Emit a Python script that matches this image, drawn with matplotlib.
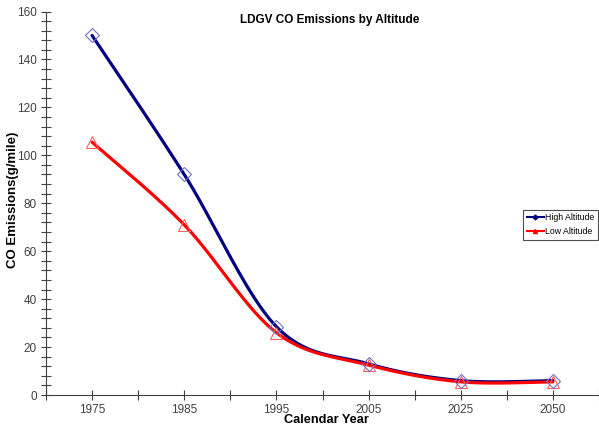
"""
LDGV CO emissions by altitude - smoothed line chart (Excel style)
"""
import matplotlib
matplotlib.use('Agg')
import matplotlib.pyplot as plt
from matplotlib.lines import Line2D
from matplotlib.ticker import MultipleLocator
import numpy as np

plt.rcParams['font.family'] = ['Liberation Sans', 'DejaVu Sans']

years = ['1975', '1985', '1995', '2005', '2025', '2050']
high_altitude = [150, 92, 28.5, 13, 6, 6]
low_altitude = [105.5, 71, 26, 12.5, 5.5, 5.5]


def smooth(xs, ys, n=40):
    """Catmull-Rom style bezier smoothing like Excel's smoothed line"""
    pts = np.column_stack([xs, ys]).astype(float)
    out = []
    for i in range(len(pts) - 1):
        p0 = pts[i - 1] if i > 0 else pts[i]
        p1 = pts[i]
        p2 = pts[i + 1]
        p3 = pts[i + 2] if i + 2 < len(pts) else pts[i + 1]
        c1 = p1 + (p2 - p0) / 6.0
        c2 = p2 - (p3 - p1) / 6.0
        t = np.linspace(0, 1, n)[:, None]
        seg = ((1 - t) ** 3) * p1 + 3 * ((1 - t) ** 2) * t * c1 \
            + 3 * (1 - t) * t ** 2 * c2 + t ** 3 * p2
        out.append(seg if i == 0 else seg[1:])
    seg = np.vstack(out)
    return seg[:, 0], seg[:, 1]


W, H = 599, 430
fig = plt.figure(figsize=(W / 100, H / 100), dpi=100)
ax = fig.add_axes([46 / W, 35 / H, 553 / W, 383.5 / H])

x = np.arange(1, len(years) + 1)

hx, hy = smooth(x, high_altitude)
lx, ly = smooth(x, low_altitude)
ax.plot(hx, hy, color='#000080', linewidth=2.3, solid_capstyle='round', zorder=3)
ax.plot(lx, ly, color='#ff0000', linewidth=2.3, solid_capstyle='round', zorder=3)
ax.plot(x, low_altitude, linestyle='none', marker='^', markersize=9,
        markerfacecolor='none', markeredgecolor='#ff6060', markeredgewidth=0.8, zorder=4)
ax.plot(x, high_altitude, linestyle='none', marker='D', markersize=7,
        markerfacecolor='none', markeredgecolor='#7070c8', markeredgewidth=0.8, zorder=4)

ax.set_xlim(0.5, 6.5)
ax.set_ylim(0, 160)
ax.set_xticks(x)
ax.set_xticklabels(years)
ax.xaxis.set_minor_locator(MultipleLocator(0.5))
ax.yaxis.set_major_locator(MultipleLocator(20))
ax.yaxis.set_minor_locator(MultipleLocator(4))

for side in ['top', 'right']:
    ax.spines[side].set_visible(False)
for side in ['left', 'bottom']:
    ax.spines[side].set_color('#404040')
    ax.spines[side].set_linewidth(0.8)

ax.tick_params(which='both', direction='inout', length=7, width=0.8, color='#404040')
ax.tick_params(axis='both', labelsize=8.5, labelcolor='#404040', pad=3)

# title, axis labels placed in figure pixels like the reference
fig.text(330 / W, 1 - 20 / H, 'LDGV CO Emissions by Altitude', fontsize=8.5,
         fontweight='bold', ha='center', va='center')
fig.text(13 / W, 1 - 200 / H, 'CO Emissions(g/mile)', fontsize=9.5,
         fontweight='bold', ha='center', va='center', rotation=90)
fig.text(326 / W, 1 - 420 / H, 'Calendar Year', fontsize=9.2,
         fontweight='bold', ha='center', va='center')

handles = [
    Line2D([], [], color='#000080', linewidth=1.5, marker='D', markersize=2.5,
           markerfacecolor='#000080'),
    Line2D([], [], color='#ff0000', linewidth=1.5, marker='^', markersize=3,
           markerfacecolor='#ff0000'),
]
leg = ax.legend(handles, ['High Altitude', 'Low Altitude'], loc='upper left',
                bbox_to_anchor=(477 / 553, (395 - 210) / 383.5), fontsize=6.3,
                frameon=True, fancybox=False, handlelength=2.0, handletextpad=0.15,
                borderpad=0.4, labelspacing=0.55, borderaxespad=0)
leg.get_frame().set_edgecolor('#202020')
leg.get_frame().set_linewidth(0.8)

fig.savefig('out.png', dpi=100, facecolor='white')
